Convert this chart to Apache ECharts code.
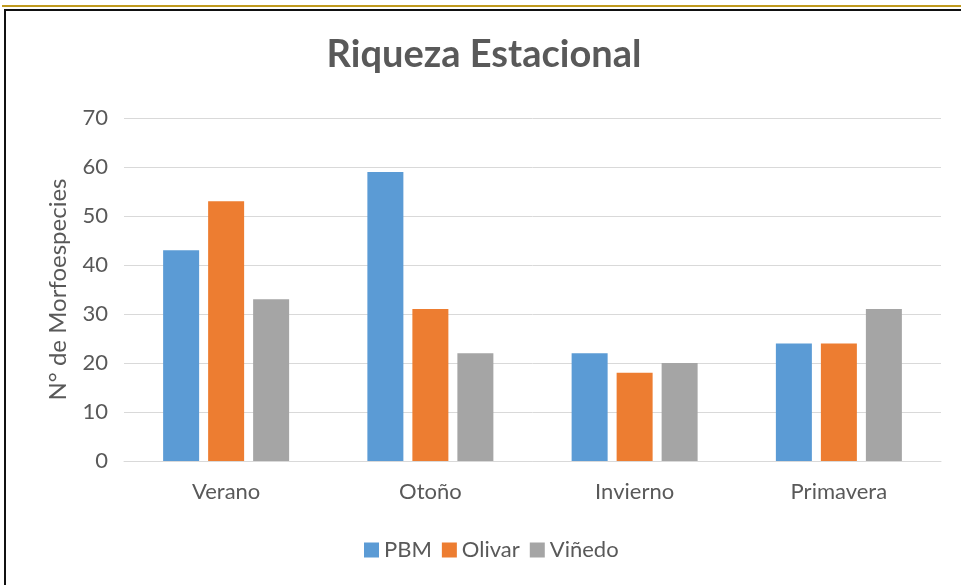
<!DOCTYPE html>
<html>
<head>
<meta charset="utf-8">
<script src="https://cdn.jsdelivr.net/npm/echarts@6/dist/echarts.min.js"></script>
<style>
html,body{margin:0;padding:0;background:#fff;}
#c{width:961px;height:585px;}
</style>
</head>
<body>
<div id="c"></div>
<script>
const categories = ['Verano', 'Otoño', 'Invierno', 'Primavera'];
const seriesNames = ['PBM', 'Olivar', 'Viñedo'];
const pbm = [43, 59, 22, 24];
const olivar = [53, 31, 18, 24];
const vinedo = [33, 22, 20, 31];
const yTicks = [0, 10, 20, 30, 40, 50, 60, 70];
const titleText = 'Riqueza Estacional';
const yAxisName = 'N° de Morfoespecies';

const colors = ['#5B9BD5', '#ED7D31', '#A5A5A5'];
const font = 'Lato, "Open Sans", sans-serif';
const chart = echarts.init(document.getElementById('c'), null, {renderer: 'canvas'});
const values = [pbm, olivar, vinedo];

chart.setOption({
  animation: false,
  color: colors,
  title: {
    text: titleText,
    left: 479,
    top: 31,
    textAlign: 'center',
    textStyle: {fontFamily: font, fontWeight: 'bold', fontSize: 38, color: '#595959'}
  },
  legend: {
    data: seriesNames,
    left: 359,
    top: 534,
    itemWidth: 15,
    itemHeight: 15,
    itemGap: 10,
    icon: 'rect',
    textStyle: {fontFamily: font, fontSize: 22, color: '#595959'}
  },
  grid: {left: 124, right: 20, top: 118, bottom: 124, containLabel: false},
  xAxis: {
    type: 'category',
    data: categories,
    axisLine: {lineStyle: {color: '#D9D9D9', width: 1}},
    axisTick: {show: false},
    axisLabel: {fontFamily: font, fontSize: 22, color: '#595959', margin: 20}
  },
  yAxis: {
    type: 'value',
    min: yTicks[0],
    max: yTicks[yTicks.length - 1],
    interval: 10,
    name: yAxisName,
    nameLocation: 'middle',
    nameGap: 54,
    nameTextStyle: {fontFamily: font, fontSize: 24, color: '#595959'},
    axisLine: {show: false},
    axisTick: {show: false},
    splitLine: {lineStyle: {color: '#D9D9D9', width: 1}},
    axisLabel: {fontFamily: font, fontSize: 22, color: '#595959', margin: 16}
  },
  series: seriesNames.map((n, i) => ({
    name: n,
    type: 'bar',
    data: values[i],
    barWidth: 36,
    barGap: '25%',
    itemStyle: {color: colors[i]}
  })),
  graphic: [
    {type: 'rect', shape: {x: 2, y: 5, width: 959, height: 2}, style: {fill: '#C09A1E'}, silent: true},
    {type: 'rect', shape: {x: 4, y: 9, width: 957, height: 2}, style: {fill: '#111'}, silent: true},
    {type: 'rect', shape: {x: 4, y: 9, width: 2, height: 576}, style: {fill: '#111'}, silent: true}
  ]
});
</script>
</body>
</html>
